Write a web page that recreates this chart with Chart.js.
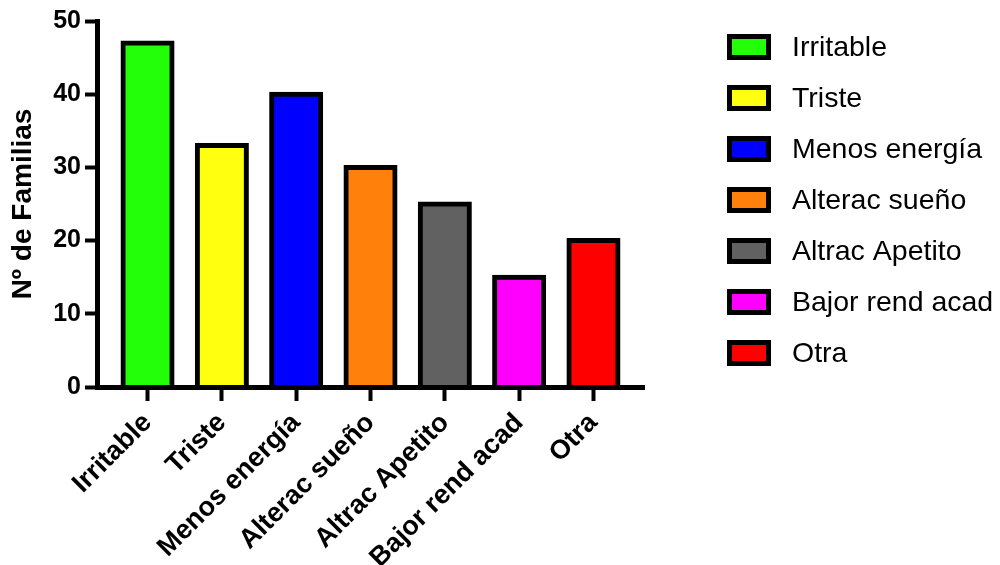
<!DOCTYPE html>
<html>
<head>
<meta charset="utf-8">
<script src="https://cdn.jsdelivr.net/npm/chart.js@4"></script>
<style>
  html, body { margin: 0; padding: 0; background: #fff; }
  #wrap { width: 1000px; height: 565px; }
</style>
</head>
<body>
<div id="wrap"><canvas id="myChart" width="1000" height="565"></canvas></div>
<script>
const categories = ["Irritable", "Triste", "Menos energía", "Alterac sueño", "Altrac Apetito", "Bajor rend acad", "Otra"];
const familias = [47, 33, 40, 30, 25, 15, 20];
const colors = ["#22ff08", "#ffff10", "#0000ff", "#ff800a", "#616161", "#ff00ff", "#ff0000"];
const yTicks = [0, 10, 20, 30, 40, 50];

const FONT = '"Liberation Sans", Arial, Helvetica, sans-serif';

// legend drawn next to the plot, one row per category
const sideLegend = {
  id: "sideLegend",
  afterDraw(chart) {
    const ctx = chart.ctx;
    const x0 = chart.chartArea.right + 83;
    ctx.save();
    ctx.font = "28.5px " + FONT;
    ctx.textBaseline = "middle";
    ctx.textAlign = "left";
    for (let i = 0; i < categories.length; i++) {
      const cy = 47 + i * 51;
      ctx.fillStyle = colors[i];
      ctx.fillRect(x0 + 2.5, cy - 10.5, 39, 21);
      ctx.lineWidth = 5;
      ctx.strokeStyle = "#000";
      ctx.strokeRect(x0 + 2.5, cy - 10.5, 39, 21);
      ctx.fillStyle = "#000";
      ctx.fillText(categories[i], x0 + 65, cy + 1);
    }
    ctx.restore();
  }
};

const ctx = document.getElementById("myChart");

new Chart(ctx, {
  type: "bar",
  data: {
    datasets: [
      {
        label: "Nº de Familias",
        data: familias.map((v, i) => ({ x: i, y: v })),
        backgroundColor: colors,
        borderColor: "#000",
        borderWidth: 5,
        borderSkipped: "bottom",
        inflateAmount: 2.5,
        barPercentage: 0.66,
        categoryPercentage: 1,
      },
    ],
  },
  options: {
    responsive: false,
    animation: false,
    layout: { padding: { top: 0, right: 356, bottom: 0, left: 0 } },
    plugins: {
      legend: { display: false },
      tooltip: { enabled: false },
    },
    scales: {
      x: {
        type: "linear",
        min: -0.68,
        max: 6.68,
        offset: false,
        afterBuildTicks: (scale) => {
          scale.ticks = categories.map((c, i) => ({ value: i }));
        },
        afterFit: (scale) => {
          scale.height = 178;
        },
        grid: {
          offset: false,
          drawOnChartArea: false,
          drawTicks: true,
          tickLength: 14,
          tickWidth: 4,
          tickColor: "#000",
        },
        border: { display: true, color: "#000", width: 5, z: 1 },
        ticks: {
          autoSkip: false,
          minRotation: 45,
          maxRotation: 45,
          padding: 6,
          color: "#000",
          font: { family: FONT, size: 27, weight: "bold" },
          callback: (value) => categories[value],
        },
      },
      y: {
        min: 0,
        max: 50,
        afterBuildTicks: (scale) => {
          scale.ticks = yTicks.map((v) => ({ value: v }));
        },
        afterFit: (scale) => {
          scale.width = 97;
        },
        grid: {
          drawOnChartArea: false,
          drawTicks: true,
          tickLength: 12,
          tickWidth: 4,
          tickColor: "#000",
        },
        border: { display: true, color: "#000", width: 5, z: 1 },
        ticks: {
          padding: 4,
          color: "#000",
          font: { family: FONT, size: 25, weight: "bold", lineHeight: 1.36 },
        },
        title: {
          display: true,
          text: "Nº de Familias",
          color: "#000",
          padding: { top: 6, bottom: 0 },
          font: { family: FONT, size: 28, weight: "bold" },
        },
      },
    },
  },
  plugins: [sideLegend],
});
</script>
</body>
</html>
